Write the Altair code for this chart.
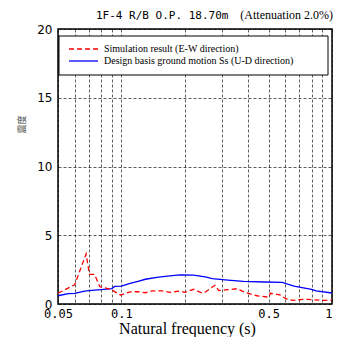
import altair as alt
import pandas as pd

# ---- data ----
ss_freq = [0.05, 0.056, 0.06, 0.067, 0.07, 0.08, 0.09, 0.093, 0.1, 0.11, 0.12, 0.13,
           0.15, 0.17, 0.19, 0.22, 0.25, 0.27, 0.32, 0.38, 0.48, 0.58, 0.66, 0.8, 0.84, 1.0]
ss_val = [0.60, 0.75, 0.78, 0.93, 0.97, 1.05, 1.12, 1.28, 1.30, 1.50, 1.65, 1.80,
          1.95, 2.05, 2.12, 2.10, 1.97, 1.85, 1.74, 1.65, 1.60, 1.57, 1.30, 1.07, 0.95, 0.80]

sim_freq = [0.05, 0.06, 0.068, 0.0705, 0.0745, 0.079, 0.089, 0.099, 0.11, 0.12, 0.13,
            0.14, 0.156, 0.17, 0.19, 0.2, 0.22, 0.24, 0.25, 0.278, 0.29, 0.32, 0.353,
            0.38, 0.40, 0.44, 0.5, 0.51, 0.57, 0.6, 0.65, 0.73, 0.8, 0.9, 1.0]
sim_val = [0.78, 1.40, 3.64, 2.16, 2.16, 1.26, 1.07, 0.65, 0.88, 0.90, 0.82,
           0.95, 0.95, 0.85, 0.95, 0.85, 1.07, 0.82, 0.86, 1.36, 0.97, 1.04, 1.11,
           0.90, 0.78, 0.60, 0.50, 0.78, 0.65, 0.40, 0.27, 0.34, 0.32, 0.27, 0.27]

x_grid = [0.05, 0.06, 0.07, 0.08, 0.09, 0.1, 0.2, 0.3, 0.4, 0.5, 0.6, 0.7, 0.8, 0.9, 1.0]
y_ticks = [0, 5, 10, 15, 20]
series_labels = ["Simulation result (E-W direction)",
                 "Design basis ground motion Ss (U-D direction)"]
title_left = "1F-4 R/B O.P. 18.70m"
title_right = "(Attenuation 2.0%)"
x_title = "Natural frequency (s)"
y_title = "震度"

ss_df = pd.DataFrame({"f": ss_freq, "v": ss_val})
sim_df = pd.DataFrame({"f": sim_freq, "v": sim_val})

x_enc = alt.X("f:Q",
              scale=alt.Scale(type="log", domain=[0.05, 1.0], nice=False),
              axis=alt.Axis(values=x_grid,
                            labelExpr="(datum.value==0.05||datum.value==0.1||datum.value==0.5||datum.value==1) ? format(datum.value, '.2~f') : ''",
                            labelAlign=alt.condition("datum.value == 1", alt.value("right"), alt.value("center")),
                            title=x_title, titleFont="Liberation Serif", titleFontSize=16,
                            titleFontWeight="normal", titleColor="black",
                            titleX=129, titleY=29, titleBaseline="alphabetic",
                            labelFont="DejaVu Sans Mono", labelFontSize=12, labelColor="black",
                            labelPadding=4, ticks=False, domain=False,
                            grid=True, gridColor="black", gridDash=[3, 2],
                            gridWidth=0.8, gridOpacity=0.8, labelFlush=False))
y_enc = alt.Y("v:Q",
              scale=alt.Scale(domain=[0, 20], nice=False),
              axis=alt.Axis(values=y_ticks, title=y_title,
                            titleFont="Noto Sans CJK JP", titleFontSize=9,
                            titleFontWeight="normal", titleColor="#444",
                            titleAngle=-90, titleX=-37, titleY=95,
                            titleAlign="center", titleBaseline="middle",
                            labelFont="DejaVu Sans", labelFontSize=12, labelColor="black",
                            labelPadding=6, ticks=False, domain=False,
                            grid=True, gridColor="black", gridDash=[3, 2],
                            gridWidth=0.8, gridOpacity=0.8))

ss_line = alt.Chart(ss_df).mark_line(color="#0000ff", strokeWidth=1.3).encode(x=x_enc, y=y_enc)
sim_line = alt.Chart(sim_df).mark_line(color="#ff0000", strokeWidth=1.3,
                                       strokeDash=[5, 3]).encode(x="f:Q", y="v:Q")

box = alt.Chart().mark_rect(fill="white", stroke="black", strokeWidth=1).encode(
    x=alt.value(1), x2=alt.value(270), y=alt.value(7), y2=alt.value(46))
sym1 = alt.Chart().mark_rule(color="#ff0000", strokeWidth=1.3, strokeDash=[5, 3]).encode(
    x=alt.value(11), x2=alt.value(40), y=alt.value(20))
sym2 = alt.Chart().mark_rule(color="#0000ff", strokeWidth=1.3).encode(
    x=alt.value(11), x2=alt.value(40), y=alt.value(32))
txt1 = alt.Chart().mark_text(align="left", baseline="middle", font="Liberation Serif",
                             fontSize=10, color="black").encode(
    x=alt.value(46), y=alt.value(20), text=alt.value(series_labels[0]))
txt2 = alt.Chart().mark_text(align="left", baseline="middle", font="Liberation Serif",
                             fontSize=10, color="black").encode(
    x=alt.value(46), y=alt.value(32), text=alt.value(series_labels[1]))

t_left = alt.Chart().mark_text(align="left", baseline="alphabetic", font="DejaVu Sans Mono",
                               fontSize=11, color="black").encode(
    x=alt.value(38), y=alt.value(-10), text=alt.value(title_left))
t_right = alt.Chart().mark_text(align="right", baseline="alphabetic", font="Liberation Serif",
                                fontSize=12, color="black").encode(
    x=alt.value(275), y=alt.value(-10), text=alt.value(title_right))

chart = alt.layer(ss_line, sim_line, box, sym1, sym2, txt1, txt2, t_left, t_right).properties(
    width=274, height=275,
    autosize=alt.AutoSizeParams(type="none"),
    padding={"left": 50, "top": 21, "right": 2, "bottom": 33},
    background="white",
).configure_view(stroke="black", strokeWidth=1.5)

chart.save("out.html", embed_options={"renderer": "svg", "actions": False})
